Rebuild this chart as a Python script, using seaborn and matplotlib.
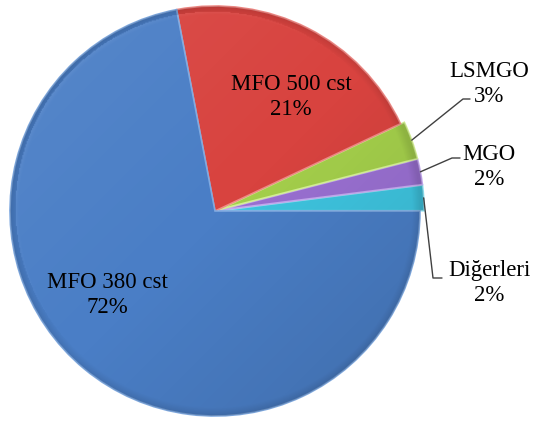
import numpy as np
import matplotlib
matplotlib.use("Agg")
import matplotlib.pyplot as plt
import seaborn as sns

sns.set_theme(style="white")
plt.rcParams['font.family'] = ['Liberation Serif', 'DejaVu Serif']

# Data (counter-clockwise from 3 o'clock)
categories = ["Diğerleri", "MGO", "LSMGO", "MFO 500 cst", "MFO 380 cst"]
values = [2, 2, 3, 21, 72]
colors = ["#3ec4df", "#9a70d2", "#a4cf4b", "#d8433f", "#4a7ec6"]
edge_colors = ["#8fe3f2", "#c4a8ee", "#d3ef94", "#f08a86", "#7fa9e0"]
explode = [0.02, 0.02, 0.02, 0.0, 0.0]

W, H = 536, 425
cx, cy, R = 215, 211, 205

fig = plt.figure(figsize=(W / 100, H / 100), dpi=100)
ax = fig.add_axes([0, 0, 1, 1])

wedges, _ = ax.pie(values, colors=colors, startangle=0, counterclock=True,
                   explode=explode, radius=1.0,
                   wedgeprops=dict(linewidth=1.2))
for w, ec in zip(wedges, edge_colors):
    w.set_edgecolor(ec)

ax.set_aspect('equal', adjustable='box')
xl = ((0 - cx) / R, (W - cx) / R)
yl = ((cy - H) / R, cy / R)
ax.set_xlim(*xl)
ax.set_ylim(*yl)
ax.axis('off')

# subtle shading: light top-left, darker bottom-right, clipped to each wedge
gx, gy = np.meshgrid(np.linspace(-1.05, 1.05, 400), np.linspace(-1.05, 1.05, 400))
shade = (gx - gy) / 2.1
rr = np.sqrt(gx ** 2 + gy ** 2)
rim = np.clip((rr - 0.96) / 0.04, 0, 1)
dark = np.clip(shade, 0, None) * 0.14 + rim * 0.10
light = np.clip(-shade, 0, None) * 0.08
alpha = dark + light
col = np.where(dark >= light, 0.0, 1.0)
rgba = np.zeros(gx.shape + (4,))
rgba[..., 0] = col
rgba[..., 1] = col
rgba[..., 2] = col
rgba[..., 3] = np.clip(alpha, 0, 0.3)
for w in wedges:
    im = ax.imshow(rgba, extent=(-1.05, 1.05, -1.05, 1.05), origin='lower',
                   zorder=w.get_zorder() + 0.1, interpolation='bilinear')
    im.set_clip_path(w)
ax.set_xlim(*xl)
ax.set_ylim(*yl)

def px(x, y):
    return ((x - cx) / R, (cy - y) / R)

fs = 16.5
ls = 1.22
# inside labels
ax.text(*px(291, 97), f"{categories[3]}\n{values[3]}%", ha='center', va='center',
        fontsize=fs, linespacing=ls, color='black', zorder=5)
ax.text(*px(107, 295), f"{categories[4]}\n{values[4]}%", ha='center', va='center',
        fontsize=fs, linespacing=ls, color='black', zorder=5)

# outside labels with leader lines
outside = {
    2: dict(label=(489, 84), elbow=(463, 99), end=(470, 99)),
    1: dict(label=(489, 167), elbow=(452, 158), end=(460, 158)),
    0: dict(label=(489, 283), elbow=(433, 278), end=(442, 278)),
}
for i, spec in outside.items():
    w = wedges[i]
    mid = np.deg2rad((w.theta1 + w.theta2) / 2)
    r0 = 1.0 + explode[i]
    sx, sy = r0 * np.cos(mid), r0 * np.sin(mid)
    ex, ey = px(*spec['elbow'])
    fx, fy = px(*spec['end'])
    ax.plot([sx, ex, fx], [sy, ey, fy], color='#404040', lw=1.0, zorder=5)
    ax.text(*px(*spec['label']), f"{categories[i]}\n{values[i]}%", ha='center',
            va='center', fontsize=fs, linespacing=ls, color='black', zorder=5)

fig.savefig("out.png", dpi=100)
